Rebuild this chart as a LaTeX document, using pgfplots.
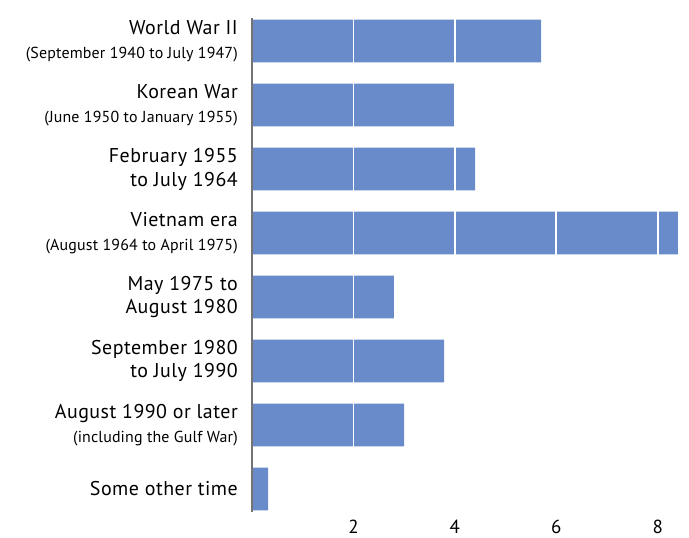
\documentclass[border=0pt]{standalone}
\usepackage{fontspec}
\setmainfont{PT Sans}
\newfontfamily\mainfam[LetterSpace=2.5]{PT Sans}
\newfontfamily\subfam[LetterSpace=1]{PT Sans}
\usepackage{pgfplots}
\pgfplotsset{compat=1.18}
\definecolor{barblue}{HTML}{6A8BC9}
\newcommand\mainl{\mainfam\fontsize{20}{24}\selectfont}
\newcommand\subl{\subfam\fontsize{16}{24}\selectfont}
\begin{document}
\begin{tikzpicture}
\path[use as bounding box] (0,0) rectangle (689bp,538bp);
\begin{axis}[
  at={(252bp,26bp)}, anchor=south west,
  scale only axis, width=426bp, height=494bp,
  xmin=0, xmax=8.4, ymin=-0.36, ymax=7.36,
  y dir=reverse,
  xbar, bar width=0.67,
  separate axis lines,
  axis x line*=bottom, x axis line style={draw=none},
  axis y line*=left, y axis line style={draw=black!55, line width=1.3pt},
  major tick length=0pt,
  xtick={2,4,6,8},
  ytick={0,1,2,3,4,5,6,7},
  yticklabels={
    {World War II\\\subl (September 1940 to July 1947)},
    {Korean War\\\subl (June 1950 to January 1955)},
    {February 1955\\to July 1964},
    {Vietnam era\\\subl (August 1964 to April 1975)},
    {May 1975 to\\August 1980},
    {September 1980\\to July 1990},
    {August 1990 or later\\\subl (including the Gulf War)},
    {Some other time}},
  yticklabel style={font=\mainl, align=right, inner sep=0pt, xshift=-14bp},
  xticklabel style={font=\fontsize{19}{20}\selectfont, inner sep=0pt, yshift=-8bp},
  /pgf/number format/assume math mode=true,
  xmajorgrids, grid style={white, line width=1.6pt},
  axis on top,
]
\addplot[fill=barblue, draw=none] coordinates {
  (5.70,0) (3.98,1) (4.40,2) (8.40,3) (2.80,4) (3.79,5) (3.00,6) (0.32,7)};
\end{axis}
\end{tikzpicture}
\end{document}
